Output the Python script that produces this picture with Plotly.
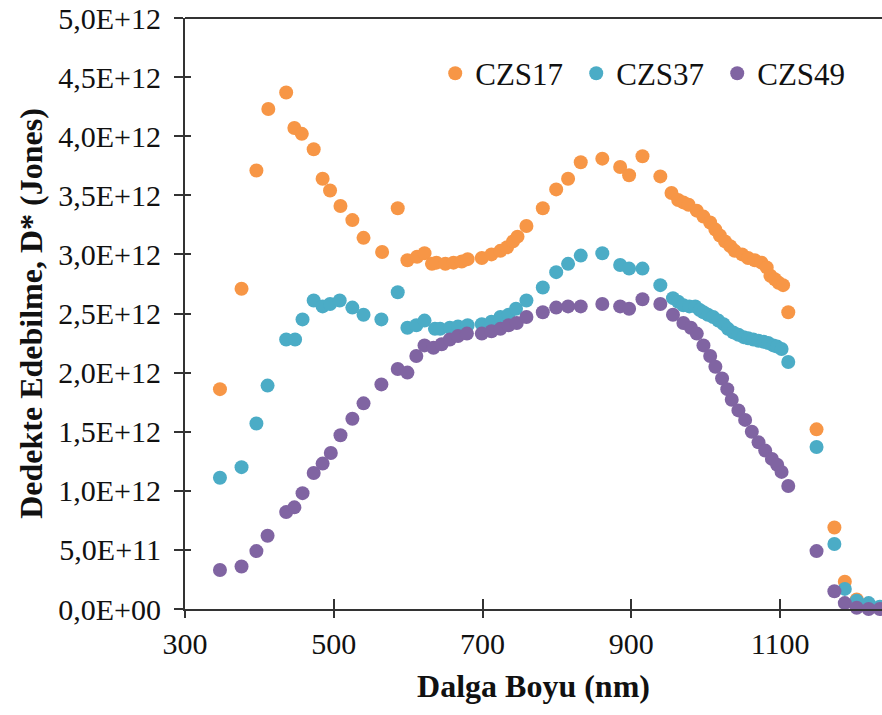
import plotly.graph_objects as go

# Specific detectivity D* (Jones) versus wavelength (nm), values in units of 1e12 Jones
UNIT = 1e12

czs17_nm = [347, 376, 396, 412, 436, 447, 457, 473, 485, 495, 509, 525, 540, 565, 586,
            599, 612, 622, 632, 638, 650, 661, 672, 680, 699, 712, 724, 733, 741, 747,
            759, 781, 799, 815, 832, 861, 885, 897, 915, 939, 954, 963, 970, 977, 988,
            997, 1006, 1013, 1019, 1026, 1033, 1039, 1049, 1057, 1066, 1075, 1082, 1087,
            1093, 1098, 1104, 1111, 1149, 1173, 1187, 1203, 1219, 1234]
czs17_d = [1.86, 2.71, 3.71, 4.23, 4.37, 4.07, 4.02, 3.89, 3.64, 3.54, 3.41, 3.29, 3.14, 3.02, 3.39,
           2.95, 2.98, 3.01, 2.92, 2.93, 2.92, 2.93, 2.94, 2.96, 2.97, 3.00, 3.03, 3.06, 3.11, 3.15,
           3.24, 3.39, 3.55, 3.64, 3.78, 3.81, 3.74, 3.67, 3.83, 3.66, 3.52, 3.46, 3.44, 3.42, 3.37,
           3.32, 3.27, 3.21, 3.16, 3.11, 3.07, 3.03, 3.00, 2.97, 2.95, 2.93, 2.89, 2.82,
           2.79, 2.76, 2.74, 2.51, 1.52, 0.69, 0.23, 0.08, 0.03, 0.01]

czs37_nm = [347, 376, 396, 411, 436, 448, 458, 473, 485, 495, 508, 525, 540, 564, 586,
            599, 611, 622, 636, 643, 656, 667, 680, 699, 712, 724, 735, 745, 759, 781,
            799, 815, 832, 861, 885, 897, 915, 939, 956, 963, 970, 978, 986, 992, 997,
            1003, 1010, 1017, 1024, 1030, 1037, 1044, 1051, 1057, 1064, 1071, 1078, 1084,
            1091, 1096, 1102, 1111, 1149, 1173, 1187, 1203, 1219, 1234]
czs37_d = [1.11, 1.20, 1.57, 1.89, 2.28, 2.28, 2.45, 2.61, 2.56, 2.58, 2.61, 2.55, 2.49, 2.45, 2.68,
           2.38, 2.40, 2.44, 2.37, 2.37, 2.38, 2.39, 2.40, 2.41, 2.43, 2.47, 2.49, 2.54, 2.61, 2.72,
           2.85, 2.92, 2.99, 3.01, 2.91, 2.88, 2.88, 2.74, 2.63, 2.60, 2.57, 2.56, 2.56, 2.53, 2.51,
           2.49, 2.47, 2.44, 2.41, 2.37, 2.34, 2.32, 2.30, 2.29, 2.28, 2.27, 2.26, 2.25,
           2.23, 2.22, 2.20, 2.09, 1.37, 0.55, 0.17, 0.07, 0.05, 0.02]

czs49_nm = [347, 376, 396, 411, 436, 447, 458, 473, 485, 496, 509, 525, 540, 564, 586,
            599, 611, 622, 634, 645, 656, 667, 679, 699, 712, 724, 735, 746, 759, 781,
            799, 815, 832, 861, 885, 897, 915, 939, 956, 970, 980, 988, 997, 1006, 1013,
            1022, 1029, 1035, 1044, 1053, 1062, 1071, 1080, 1089, 1096, 1102, 1111, 1149,
            1173, 1187, 1203, 1219, 1234]
czs49_d = [0.33, 0.36, 0.49, 0.62, 0.82, 0.86, 0.98, 1.15, 1.23, 1.32, 1.47, 1.61, 1.74, 1.90, 2.03,
           2.00, 2.14, 2.23, 2.21, 2.24, 2.28, 2.31, 2.33, 2.33, 2.35, 2.37, 2.40, 2.42, 2.47, 2.51,
           2.55, 2.56, 2.56, 2.58, 2.56, 2.54, 2.62, 2.58, 2.49, 2.42, 2.38, 2.33, 2.23, 2.14, 2.05,
           1.95, 1.86, 1.77, 1.68, 1.60, 1.50, 1.41, 1.34, 1.27, 1.22, 1.16, 1.04, 0.49,
           0.15, 0.05, 0.01, 0.00, 0.00]

series_names = ["CZS17", "CZS37", "CZS49"]
series_colors = ["#F79646", "#4BACC6", "#8064A2"]

x_ticks = [300, 500, 700, 900, 1100]
y_ticks = [0.0, 0.5, 1.0, 1.5, 2.0, 2.5, 3.0, 3.5, 4.0, 4.5, 5.0]
y_tick_text = ["0,0E+00", "5,0E+11", "1,0E+12", "1,5E+12", "2,0E+12", "2,5E+12",
               "3,0E+12", "3,5E+12", "4,0E+12", "4,5E+12", "5,0E+12"]

X_RANGE = [300, 1237]
Y_RANGE = [0, 5.0 * UNIT]
SERIF = "Liberation Serif, Times New Roman, serif"
AXIS_COLOR = "#333333"
TEXT_COLOR = "#111111"

fig = go.Figure()
for name, color, xs, ds in zip(series_names, series_colors,
                               [czs17_nm, czs37_nm, czs49_nm],
                               [czs17_d, czs37_d, czs49_d]):
    fig.add_trace(go.Scatter(
        x=xs, y=[d * UNIT for d in ds], mode="markers", name=name,
        marker=dict(color=color, size=14, line=dict(width=0)),
        cliponaxis=False,
    ))

# empty trace on the overlay axes that carry the inner half of the crossing ticks
fig.add_trace(go.Scatter(x=[], y=[], xaxis="x2", yaxis="y2", showlegend=False,
                         hoverinfo="skip"))

fig.update_layout(
    width=882, height=715,
    margin=dict(l=185, r=0, t=18, b=106),
    paper_bgcolor="white", plot_bgcolor="white",
    font=dict(family=SERIF, size=30, color=TEXT_COLOR),
    showlegend=True,
    legend=dict(
        orientation="h", x=0.359, xanchor="left", y=0.906, yanchor="middle",
        font=dict(family=SERIF, size=31, color=TEXT_COLOR),
        bgcolor="rgba(0,0,0,0)", itemwidth=30, traceorder="normal",
        entrywidth=96, entrywidthmode="pixels",
    ),
    xaxis=dict(
        range=X_RANGE, tickvals=x_ticks, ticktext=[str(v) for v in x_ticks],
        showgrid=False, zeroline=False,
        showline=True, linecolor=AXIS_COLOR, linewidth=2,
        ticks="outside", ticklen=7, tickwidth=2, tickcolor=AXIS_COLOR,
        tickfont=dict(family=SERIF, size=30, color=TEXT_COLOR),
        ticklabeloverflow="allow",
        title=dict(text="<b>Dalga Boyu (nm)</b>", standoff=16,
                   font=dict(family=SERIF, size=32, color=TEXT_COLOR)),
        automargin=False,
    ),
    yaxis=dict(
        range=Y_RANGE, tickvals=[v * UNIT for v in y_ticks], ticktext=y_tick_text,
        showgrid=False, zeroline=False,
        showline=True, linecolor=AXIS_COLOR, linewidth=2,
        ticks="outside", ticklen=9, tickwidth=2, tickcolor=AXIS_COLOR,
        tickfont=dict(family=SERIF, size=30, color=TEXT_COLOR),
        ticklabelstandoff=7, ticklabeloverflow="allow",
        title=dict(text="<b>Dedekte Edebilme, D* (Jones)</b>", standoff=6,
                   font=dict(family=SERIF, size=32, color=TEXT_COLOR)),
        automargin=False,
    ),
    xaxis2=dict(
        overlaying="x", anchor="y2", range=X_RANGE, tickvals=x_ticks,
        showticklabels=False, showgrid=False, zeroline=False, showline=False,
        ticks="inside", ticklen=10, tickwidth=2, tickcolor=AXIS_COLOR,
    ),
    yaxis2=dict(
        overlaying="y", anchor="x2", range=Y_RANGE, tickvals=[v * UNIT for v in y_ticks],
        showticklabels=False, showgrid=False, zeroline=False, showline=False,
        ticks="inside", ticklen=6, tickwidth=2, tickcolor=AXIS_COLOR,
    ),
    shapes=[dict(type="line", xref="paper", yref="paper", x0=0, x1=1, y0=1, y1=1,
                 line=dict(color=AXIS_COLOR, width=2))],
)

fig.write_html("out.html")
